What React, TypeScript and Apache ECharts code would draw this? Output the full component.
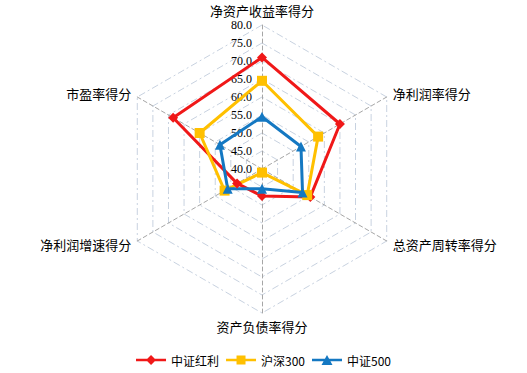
import React, { useEffect, useRef } from "react";
import * as echarts from "echarts";

const indicatorNames = ["净资产收益率得分", "市盈率得分", "净利润增速得分", "资产负债率得分", "总资产周转率得分", "净利润率得分"];
const seriesNames = ["中证红利", "沪深300", "中证500"];
const hongli = [71, 68.5, 48, 47.5, 55.5, 65];
const hs300 = [64.5, 60, 52, 41, 54.5, 58];
const zz500 = [54.5, 53.5, 51, 45.5, 53, 52.5];
const axisMin = 40;
const axisMax = 80;

const colors = ["#F01818", "#FFC000", "#1478C2"];
const symbols = ["diamond", "rect", "triangle"];
const legendIcons = [
  "path://M0,3.8 L30,3.8 L30,6.2 L0,6.2 Z M15,0 L20,5 L15,10 L10,5 Z",
  "path://M0,3.8 L30,3.8 L30,6.2 L0,6.2 Z M10.5,0.5 L19.5,0.5 L19.5,9.5 L10.5,9.5 Z",
  "path://M0,3.8 L30,3.8 L30,6.2 L0,6.2 Z M15,0 L20.5,10 L9.5,10 Z",
];

export default function App() {
  const ref = useRef<HTMLDivElement>(null);
  useEffect(() => {
    const chart = echarts.init(ref.current!, undefined, { renderer: "svg" });
    const sidePadUp = [0, 0, 14, 0];
    const sidePadDown = [18, 0, 0, 0];
    const indicator = indicatorNames.map((name, i) => {
      const o: any = { name, min: axisMin, max: axisMax };
      if (i === 0) {
        o.axisLabel = { show: true };
        o.nameTextStyle = { padding: [0, 0, 1, 0], lineHeight: 14 };
      }
      if (i === 1 || i === 5) o.nameTextStyle = { padding: sidePadUp };
      if (i === 2 || i === 4) o.nameTextStyle = { padding: sidePadDown };
      return o;
    });
    const all = [hongli, hs300, zz500];
    chart.setOption({
      animation: false,
      backgroundColor: "#ffffff",
      legend: {
        data: seriesNames.map((n, i) => ({ name: n, icon: legendIcons[i] })),
        left: "center",
        top: 349,
        itemWidth: 30,
        itemHeight: 10,
        itemGap: 7,
        textStyle: { fontFamily: "Noto Sans CJK SC", fontSize: 12, color: "#000" },
      },
      radar: {
        center: [262, 169],
        radius: 144,
        shape: "polygon",
        splitNumber: 8,
        startAngle: 90,
        nameGap: 7,
        indicator,
        axisName: { color: "#000", fontFamily: "Noto Sans CJK SC", fontSize: 13 },
        axisLine: { show: true, lineStyle: { color: "#A6A6A6", type: [4, 3], width: 1 } },
        splitLine: { show: true, lineStyle: { color: "#C8D2E0", type: [7, 3, 2, 3], width: 1 } },
        splitArea: { show: false },
        axisTick: { show: false },
        axisLabel: {
          show: false,
          color: "#000",
          fontFamily: "Liberation Serif",
          fontSize: 12,
          lineHeight: 12,
          margin: 10,
          formatter: (v: number) => v.toFixed(1),
        },
      },
      series: [
        {
          type: "radar",
          data: all.map((vals, i) => ({
            name: seriesNames[i],
            value: vals,
            symbol: symbols[i],
            symbolSize: 10,
            itemStyle: { color: colors[i] },
            lineStyle: { color: colors[i], width: 3 },
          })),
        },
      ],
    });
    return () => chart.dispose();
  }, []);
  return <div ref={ref} style={{ position: "fixed", left: 0, top: 0, width: 527, height: 373 }} />;
}
